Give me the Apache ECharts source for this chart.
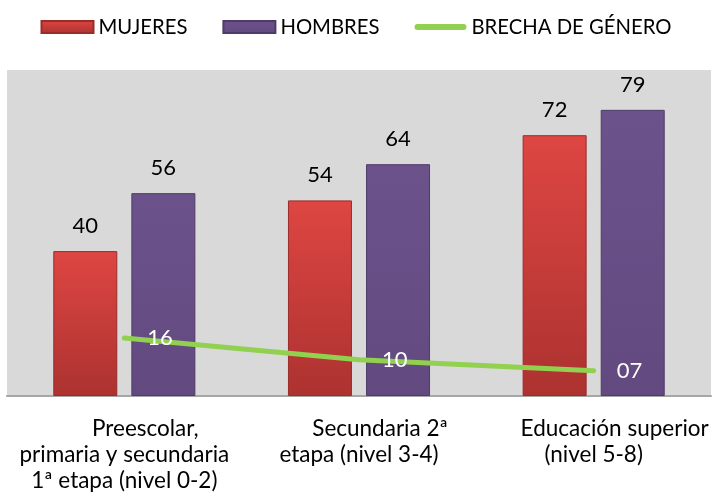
<!DOCTYPE html>
<html>
<head>
<meta charset="utf-8">
<script src="https://cdn.jsdelivr.net/npm/echarts@6/dist/echarts.min.js"></script>
<style>html,body{margin:0;padding:0;background:#fff}#c{width:712px;height:496px}</style>
</head>
<body>
<div id="c"></div>
<script>
const categories = ['Preescolar,\nprimaria y secundaria\n1ª etapa (nivel 0-2)', 'Secundaria 2ª\netapa (nivel 3-4)', 'Educación superior\n(nivel 5-8)'];
const mujeres = [40, 54, 72];
const hombres = [56, 64, 79];
const brecha = [16, 10, 7];
const seriesNames = ['MUJERES', 'HOMBRES', 'BRECHA DE GÉNERO'];

const FONT = 'Lato';
const GREEN = '#92D050';
const chart = echarts.init(document.getElementById('c'), null, {renderer: 'canvas'});

const redGrad = new echarts.graphic.LinearGradient(0, 0, 0, 1, [
  {offset: 0, color: '#DE4642'}, {offset: 1, color: '#AC3230'}
]);
const purpleGrad = new echarts.graphic.LinearGradient(0, 0, 0, 1, [
  {offset: 0, color: '#6C528B'}, {offset: 1, color: '#624A80'}
]);

chart.setOption({
  backgroundColor: '#ffffff',
  animation: false,
  textStyle: {fontFamily: FONT},
  legend: {
    top: 12,
    left: 'center',
    itemWidth: 52,
    itemHeight: 12,
    itemGap: 35,
    symbolKeepAspect: true,
    textStyle: {fontFamily: FONT, fontSize: 20.3, color: '#000'},
    data: [
      {name: seriesNames[0], icon: 'rect'},
      {name: seriesNames[1], icon: 'rect'},
      {name: seriesNames[2], icon: 'path://M3,0 L49,0 A3,3 0 0 1 49,6 L3,6 A3,3 0 0 1 3,0 Z', itemStyle: {color: GREEN}}
    ]
  },
  grid: {
    left: 7, right: 1, top: 70, bottom: 100,
    show: true, backgroundColor: '#D9D9D9', borderWidth: 0,
    containLabel: false
  },
  xAxis: {
    type: 'category',
    data: categories,
    axisTick: {show: false},
    axisLine: {show: true, lineStyle: {color: '#A6A6A6', width: 2}},
    axisLabel: {
      interval: 0,
      margin: 20,
      color: '#000',
      fontFamily: FONT,
      fontSize: 22.5,
      lineHeight: 26,
      formatter: function (v) {
        const lines = v.split('\n');
        return lines.map((l, i) => (i === 0 ? '{f|' + l + '}' : '{n|' + l + '}')).join('\n');
      },
      rich: {
        f: {fontFamily: FONT, fontSize: 22.5, lineHeight: 26, color: '#000', padding: [0, 0, 0, 42]},
        n: {fontFamily: FONT, fontSize: 22.5, lineHeight: 26, color: '#000'}
      }
    }
  },
  yAxis: {
    type: 'value',
    min: 0, max: 90,
    show: false,
    splitLine: {show: false}
  },
  series: [
    {
      name: seriesNames[0],
      type: 'bar',
      data: mujeres,
      barWidth: 64,
      barGap: '22%',
      itemStyle: {color: redGrad, borderColor: '#9A2C2A', borderWidth: 1},
      label: {show: true, position: 'top', distance: 14, color: '#000', fontFamily: FONT, fontSize: 22}
    },
    {
      name: seriesNames[1],
      type: 'bar',
      data: hombres,
      barWidth: 64,
      itemStyle: {color: purpleGrad, borderColor: '#4F3B68', borderWidth: 1},
      label: {show: true, position: 'top', distance: 14, color: '#000', fontFamily: FONT, fontSize: 22}
    },
    {
      name: seriesNames[2],
      type: 'line',
      data: brecha,
      symbol: 'circle',
      symbolSize: 2,
      showSymbol: true,
      z: 5,
      lineStyle: {color: GREEN, width: 5, cap: 'round'},
      itemStyle: {color: GREEN},
      label: {
        show: true, position: 'right', distance: 22, color: '#fff', fontFamily: FONT, fontSize: 22,
        formatter: p => String(p.value).padStart(2, '0')
      }
    }
  ]
});
</script>
</body>
</html>
